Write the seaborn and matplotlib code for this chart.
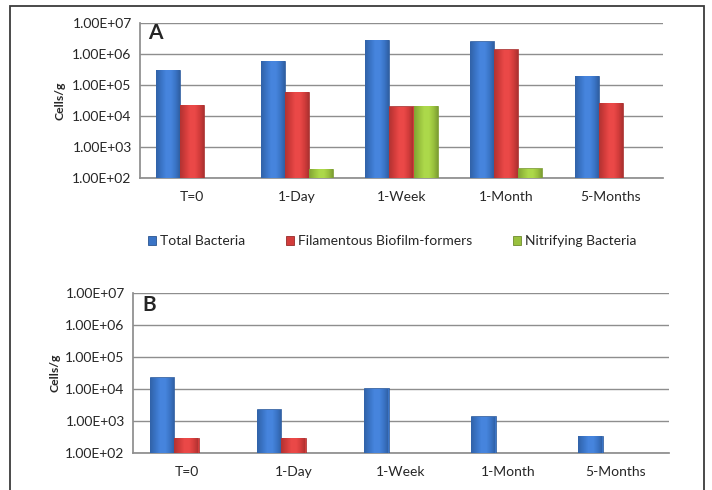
"""
Two-panel log-scale bar chart of cell counts (panel A and B), Excel-look.
"""

import matplotlib
matplotlib.use("Agg")
import matplotlib.pyplot as plt
import matplotlib.ticker as mticker
import numpy as np
import pandas as pd
import seaborn as sns
from matplotlib.colors import LinearSegmentedColormap, to_rgb
from matplotlib.patches import Rectangle

TIMES = ["T=0", "1-Day", "1-Week", "1-Month", "5-Months"]
SERIES = ["Total Bacteria", "Filamentous Biofilm-formers", "Nitrifying Bacteria"]

# panel A (cells/g)
A_TOTAL = [3.1e5, 6.2e5, 3.0e6, 2.6e6, 2.0e5]
A_FILAMENTOUS = [2.3e4, 6.2e4, 2.1e4, 1.45e6, 2.7e4]
A_NITRIFYING = [np.nan, 2.0e2, 2.2e4, 2.1e2, np.nan]

# panel B (cells/g)
B_TOTAL = [2.3e4, 2.3e3, 1.05e4, 1.4e3, 3.5e2]
B_FILAMENTOUS = [3.0e2, 3.0e2, np.nan, np.nan, np.nan]
B_NITRIFYING = [np.nan, np.nan, np.nan, np.nan, np.nan]

PALETTE = {
    "Total Bacteria": "#3A74C6",
    "Filamentous Biofilm-formers": "#D23C3B",
    "Nitrifying Bacteria": "#99C13E",
}
GRID = "#8E8E8E"
FONT = ["Lato", "DejaVu Sans"]
FS = 10


def to_long(total, filamentous, nitrifying):
    rows = []
    for name, vals in zip(SERIES, [total, filamentous, nitrifying]):
        for t, v in zip(TIMES, vals):
            rows.append({"time": t, "series": name, "cells": v})
    return pd.DataFrame(rows)


def shade_bars(ax):
    # fake the bevel look: horizontal gradient clipped to every bar
    ylo = ax.get_ylim()[0]
    xlim, ylim = ax.get_xlim(), ax.get_ylim()
    for p in list(ax.patches):
        h = p.get_height()
        if not np.isfinite(h) or h <= ylo:
            continue
        base = np.array(to_rgb(p.get_facecolor()))
        light = np.clip(base * 1.08 + 0.03, 0, 1)
        cmap = LinearSegmentedColormap.from_list(
            "bev", [base * 0.86, base, light, light, base, base * 0.8])
        grad = np.linspace(0, 1, 64).reshape(1, -1)
        x0, w = p.get_x(), p.get_width()
        im = ax.imshow(grad, cmap=cmap, aspect="auto",
                       extent=(x0, x0 + w, ylo, h), zorder=p.get_zorder() + 0.1,
                       interpolation="bilinear")
        im.set_clip_path(p)
        p.set_edgecolor(base * 0.78)
        p.set_linewidth(0.5)
    ax.set_xlim(xlim)
    ax.set_ylim(ylim)


def draw_panel(ax, df, letter, letter_xy, label_x):
    sns.barplot(data=df, x="time", y="cells", hue="series", order=TIMES,
                hue_order=SERIES, palette=PALETTE, width=0.69,
                errorbar=None, saturation=1, ax=ax, zorder=3)
    ax.set_yscale("log")
    ax.set_ylim(1e2, 1e7)
    ax.set_xlim(-0.5, len(TIMES) - 0.5)
    ax.yaxis.set_major_locator(mticker.LogLocator(base=10, numticks=10))
    ax.yaxis.set_minor_locator(mticker.NullLocator())
    ax.yaxis.set_major_formatter(mticker.FuncFormatter(lambda v, _: f"{v:.2E}"))
    ax.grid(axis="y", color=GRID, lw=1.0, zorder=0)
    ax.grid(axis="x", visible=False)
    ax.set_axisbelow(True)
    for s in ["top", "right"]:
        ax.spines[s].set_visible(False)
    ax.spines["left"].set_color(GRID)
    ax.spines["bottom"].set_color(GRID)
    ax.tick_params(axis="y", length=4, color=GRID, labelsize=FS, pad=2)
    ax.tick_params(axis="x", length=0, labelsize=FS, pad=9)
    ax.set_xlabel("")
    ax.set_ylabel("Cells/g", fontsize=8.8, fontweight="bold", family=FONT)
    ax.yaxis.set_label_coords(label_x, 0.5)
    for lab in ax.get_xticklabels() + ax.get_yticklabels():
        lab.set_family(FONT)
    ax.text(letter_xy[0], letter_xy[1], letter, transform=ax.transAxes,
            fontsize=15, fontweight="bold", family=FONT, ha="left", va="center")
    leg = ax.get_legend()
    if leg is not None:
        leg.remove()
    shade_bars(ax)


sns.set_theme(style="white")
plt.rcParams["font.family"] = FONT

fig = plt.figure(figsize=(7.12, 4.9), dpi=100)
ax_a = fig.add_axes([0.1966, 0.6367, 0.7346, 0.3157])
ax_b = fig.add_axes([0.1868, 0.0755, 0.7528, 0.3265])

draw_panel(ax_a, to_long(A_TOTAL, A_FILAMENTOUS, A_NITRIFYING), "A",
           (0.015, 0.937), -0.1415)
draw_panel(ax_b, to_long(B_TOTAL, B_FILAMENTOUS, B_NITRIFYING), "B",
           (0.017, 0.925), -0.136)

handles = [Rectangle((0, 0), 1, 1, facecolor=PALETTE[s],
                     edgecolor=np.array(to_rgb(PALETTE[s])) * 0.72, lw=0.6)
           for s in SERIES]
fig.legend(handles, SERIES, loc="center", bbox_to_anchor=(0.551, 0.508),
           ncol=3, frameon=False, handlelength=0.6, handleheight=0.6,
           handletextpad=0.3, columnspacing=2.9,
           prop={"family": FONT, "size": FS})

# outer frame around both panels
fig.add_artist(Rectangle((10 / 712, -0.05), (704 - 10) / 712, 0.05 + 1 - 6 / 490,
                         transform=fig.transFigure, fill=False,
                         edgecolor="#3C3C3C", lw=1.3, clip_on=False))

fig.savefig("out.png", dpi=100)
